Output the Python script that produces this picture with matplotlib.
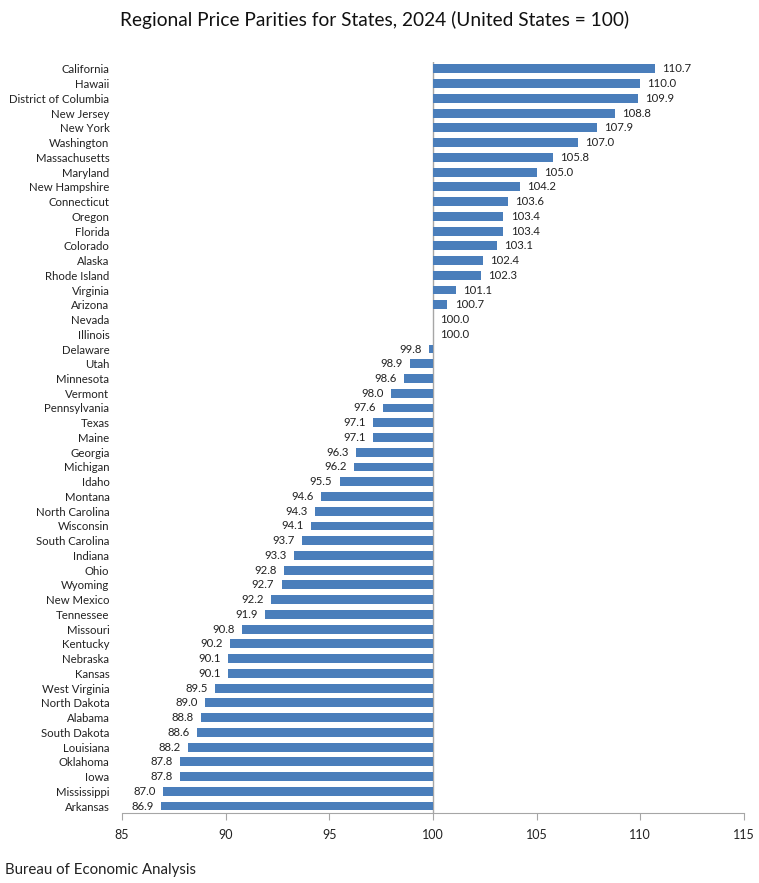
import matplotlib
matplotlib.use("Agg")
import matplotlib.pyplot as plt

plt.rcParams['font.family'] = ['Lato', 'DejaVu Sans']

states = ["California", "Hawaii", "District of Columbia", "New Jersey", "New York",
          "Washington", "Massachusetts", "Maryland", "New Hampshire", "Connecticut",
          "Oregon", "Florida", "Colorado", "Alaska", "Rhode Island", "Virginia",
          "Arizona", "Nevada", "Illinois", "Delaware", "Utah", "Minnesota", "Vermont",
          "Pennsylvania", "Texas", "Maine", "Georgia", "Michigan", "Idaho", "Montana",
          "North Carolina", "Wisconsin", "South Carolina", "Indiana", "Ohio", "Wyoming",
          "New Mexico", "Tennessee", "Missouri", "Kentucky", "Nebraska", "Kansas",
          "West Virginia", "North Dakota", "Alabama", "South Dakota", "Louisiana",
          "Oklahoma", "Iowa", "Mississippi", "Arkansas"]
values = [110.7, 110.0, 109.9, 108.8, 107.9, 107.0, 105.8, 105.0, 104.2, 103.6,
          103.4, 103.4, 103.1, 102.4, 102.3, 101.1, 100.7, 100.0, 100.0, 99.8,
          98.9, 98.6, 98.0, 97.6, 97.1, 97.1, 96.3, 96.2, 95.5, 94.6,
          94.3, 94.1, 93.7, 93.3, 92.8, 92.7, 92.2, 91.9, 90.8, 90.2,
          90.1, 90.1, 89.5, 89.0, 88.8, 88.6, 88.2, 87.8, 87.8, 87.0, 86.9]
xticks = [85, 90, 95, 100, 105, 110, 115]
base = 100

fig = plt.figure(figsize=(7.59, 8.83), dpi=100)
ax = fig.add_axes([0.1607, 0.0788, 0.8193, 0.8515])

ypos = list(range(len(states)))
widths = [v - base for v in values]
ax.barh(ypos, widths, left=base, height=0.6, color="#4A7EBB", zorder=2)

for y, v in zip(ypos, values):
    if v >= base:
        ax.text(v + 0.35, y, f"{v:.1f}", va="center", ha="left", fontsize=8.2, color="#222222")
    else:
        ax.text(v - 0.35, y, f"{v:.1f}", va="center", ha="right", fontsize=8.2, color="#222222")

ax.set_xlim(85, 115)
ax.set_ylim(len(states) - 0.5, -0.5)
ax.axvline(base, color="#A6A6A6", lw=1.0, zorder=1)

ax.set_yticks(ypos)
ax.set_yticklabels(states, fontsize=8.2, color="#222222")
ax.tick_params(axis="y", length=0, pad=9)
ax.set_xticks(xticks)
ax.set_xticklabels([str(t) for t in xticks], fontsize=9, color="#222222")
ax.tick_params(axis="x", length=5, color="#A6A6A6", pad=6)

for s in ["top", "right", "left"]:
    ax.spines[s].set_visible(False)
ax.spines["bottom"].set_color("#A6A6A6")

fig.text(0.494, 0.977, "Regional Price Parities for States, 2024 (United States = 100)",
         ha="center", va="center", fontsize=13.8, color="#111111")
fig.text(0.007, 0.015, "Bureau of Economic Analysis", ha="left", va="center",
         fontsize=10.8, color="#222222")

fig.savefig("out.png", dpi=100)
